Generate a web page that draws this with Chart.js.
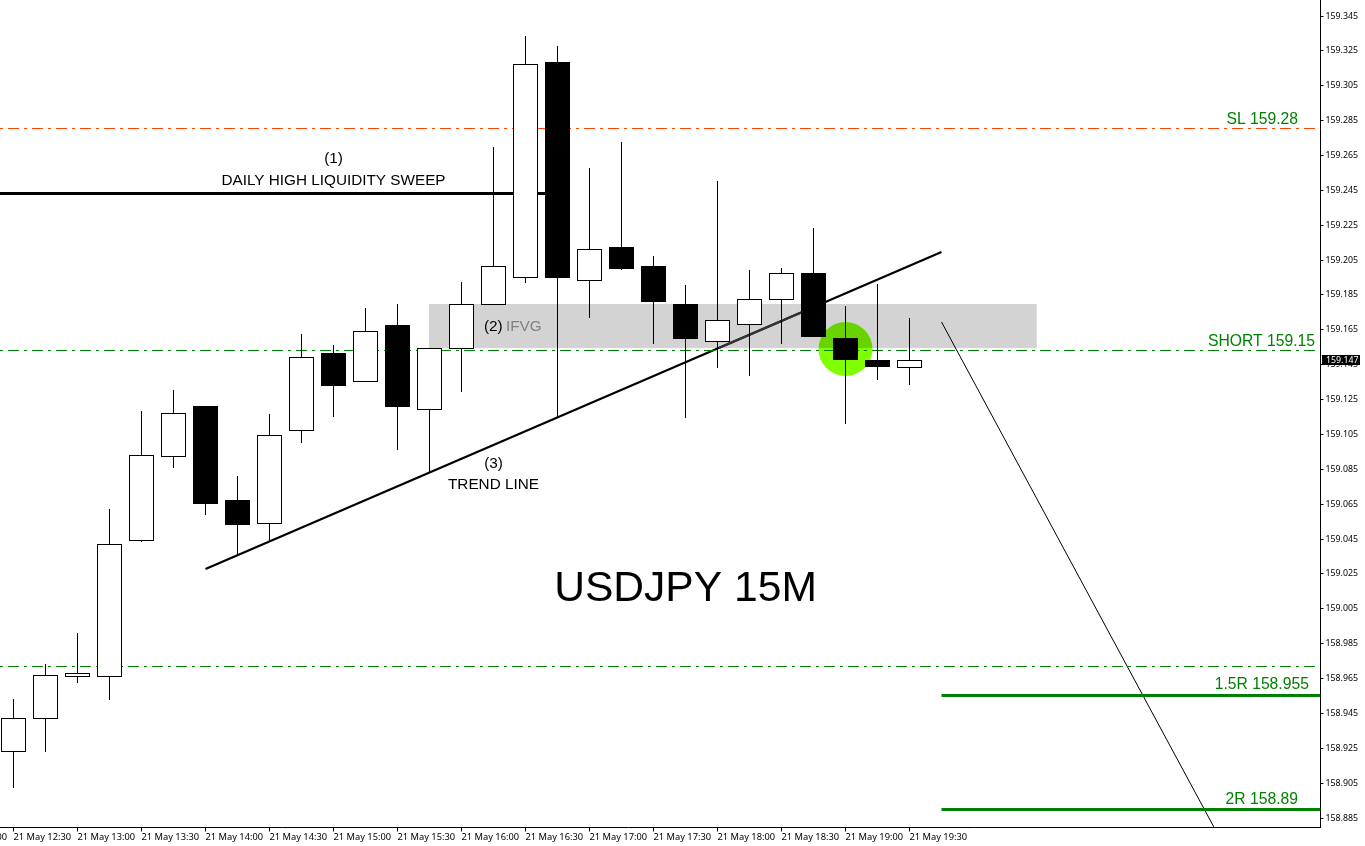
<!DOCTYPE html>
<html>
<head>
<meta charset="utf-8">
<title>USDJPY 15M</title>
<script src="https://cdn.jsdelivr.net/npm/chart.js@4"></script>
<style>
  html, body { margin: 0; background: #fff; overflow: hidden; }
  /* canvas starts 64px left of the window so the 12:00 label gets cut like in the original */
  #chart { position: absolute; left: -64px; top: 0; }
</style>
</head>
<body>
<canvas id="chart" width="1429" height="846"></canvas>
<script>
const opens  = [158.92286,158.94179,158.96588,158.96588,159.04388,159.09206,159.12132,159.06740,159.05363,159.10698,159.15171,159.13508,159.16777,159.11902,159.15401,159.17924,159.19473,159.31862,159.19301,159.21251,159.20161,159.17982,159.15802,159.16777,159.18211,159.19760,159.16032,159.14770,159.14311];
const highs  = [158.95326,158.97334,158.99112,159.06224,159.11845,159.13049,159.12132,159.08117,159.11673,159.16261,159.15630,159.17752,159.17982,159.15458,159.19244,159.26987,159.33353,159.32780,159.25782,159.27273,159.20735,159.19072,159.25037,159.19932,159.20047,159.22341,159.17867,159.19129,159.17179];
const lows   = [158.90222,158.92286,158.96244,158.95269,159.04331,159.08575,159.05880,159.03528,159.04388,159.10009,159.11501,159.13508,159.09608,159.08346,159.12934,159.17924,159.19186,159.11501,159.17179,159.19932,159.15688,159.11443,159.14311,159.13852,159.15688,159.16089,159.11099,159.13623,159.13336];
const closes = [158.94236,158.96703,158.96817,159.04216,159.09321,159.11730,159.06511,159.05306,159.10468,159.14942,159.13279,159.16433,159.12074,159.15458,159.17982,159.20161,159.31747,159.19473,159.21136,159.19989,159.18097,159.15974,159.17064,159.18269,159.19760,159.16089,159.14770,159.14368,159.14770];

const xTickLabels = ['21 May 12:00','21 May 12:30','21 May 13:00','21 May 13:30','21 May 14:00','21 May 14:30','21 May 15:00','21 May 15:30','21 May 16:00','21 May 16:30','21 May 17:00','21 May 17:30','21 May 18:00','21 May 18:30','21 May 19:00','21 May 19:30'];
const xTickIndexes = [-2,0,2,4,6,8,10,12,14,16,18,20,22,24,26,28];
const yTickLabels = ['159.345','159.325','159.305','159.285','159.265','159.245','159.225','159.205','159.185','159.165','159.145','159.125','159.105','159.085','159.065','159.045','159.025','159.005','158.985','158.965','158.945','158.925','158.905','158.885'];

const slLevel = 159.28048;
const shortLevel = 159.15315;
const lowerDashLevel = 158.97190;
const dailyHigh = 159.24320;
const target15R = 158.95527;
const target2R = 158.88988;
const currentPrice = 159.14770;
const currentPriceLabel = '159.147';
const ifvgTop = 159.17982;
const ifvgBottom = 159.15458;

const xMin = -2.421875, xMax = 40.84375;
const yMin = 158.87958, yMax = 159.35418;

function line(points, color, width, order, dash) {
  return {
    type: 'line', data: points, borderColor: color, borderWidth: width, borderDash: dash || [],
    pointRadius: 0, fill: false, order: order, tension: 0
  };
}

const dashDot = [11, 5, 3, 5];
const datasets = [
  // signal circle, goes under the zone so its top half looks darker
  { type: 'line', data: [{ x: 26, y: 159.15401 }], pointRadius: 27, pointBackgroundColor: '#7fff00', pointBorderWidth: 0, showLine: false, order: 100 },
  line([{ x: 6, y: 159.0278 }, { x: 29, y: 159.2097 }], '#000', 2.2, 90),
  // ifvg zone, translucent black = gray multiply
  { type: 'line', data: [{ x: 12.98, y: ifvgTop }, { x: 31.98, y: ifvgTop }], borderWidth: 0, pointRadius: 0,
    fill: { value: ifvgBottom }, backgroundColor: 'rgba(0,0,0,0.173)', order: 80 },
  line([{ x: 22.05, y: 159.1546 }, { x: 25.23, y: 159.1798 }], '#333', 2.2, 70),
  line([{ x: xMin, y: slLevel }, { x: xMax, y: slLevel }], '#ff4500', 1, 60, dashDot),
  line([{ x: xMin, y: shortLevel }, { x: xMax, y: shortLevel }], '#008000', 1, 60, dashDot),
  line([{ x: xMin, y: lowerDashLevel }, { x: xMax, y: lowerDashLevel }], '#008000', 1, 60, dashDot),
  line([{ x: xMin, y: dailyHigh }, { x: 17, y: dailyHigh }], '#000', 3, 60),
  line([{ x: 29, y: target15R }, { x: xMax, y: target15R }], '#008000', 3, 60),
  line([{ x: 29, y: target2R }, { x: xMax, y: target2R }], '#008000', 3, 60),
  line([{ x: 29, y: 159.1695 }, { x: 37.52, y: yMin }], '#000', 1, 60),
  // wicks
  { data: highs.map((h, i) => ({ x: i, y: [lows[i], h] })), backgroundColor: '#000', barThickness: 1,
    borderWidth: 0, inflateAmount: 0, grouped: false, order: 20 },
  // bodies
  { data: opens.map((o, i) => ({ x: i, y: [o, closes[i]] })),
    backgroundColor: opens.map((o, i) => closes[i] >= o ? '#fff' : '#000'),
    borderColor: '#000', borderWidth: 1, borderSkipped: false, barThickness: 25,
    inflateAmount: 0, grouped: false, order: 10 }
];

const notesPlugin = {
  id: 'notes',
  afterDatasetsDraw(chart) {
    const { ctx, scales: { x, y } } = chart;
    function note(text, ix, price, align, font, color) {
      ctx.font = font || '15.3px "Liberation Sans"';
      ctx.fillStyle = color || '#000';
      ctx.textAlign = align || 'center';
      ctx.textBaseline = 'middle';
      ctx.fillText(text, x.getPixelForValue(ix), y.getPixelForValue(price));
    }
    const greenFont = '15.7px "Liberation Sans"';
    ctx.save();
    note('(1)', 10, 159.2630);
    note('DAILY HIGH LIQUIDITY SWEEP', 10, 159.2504);
    note('(2)', 14.7, 159.1666, 'left');
    note('IFVG', 15.39, 159.1666, 'left', null, '#808080');
    note('(3)', 15, 159.0880);
    note('TREND LINE', 15, 159.0760);
    note('USDJPY 15M', 21, 159.0163, 'center', '42.6px "Liberation Sans"');
    note('SL 159.28', 40.14, 159.2853, 'right', greenFont, '#008000');
    note('SHORT 159.15', 40.67, 159.1580, 'right', greenFont, '#008000');
    note('1.5R 158.955', 40.48, 158.9613, 'right', greenFont, '#008000');
    note('2R 158.89', 40.14, 158.8953, 'right', greenFont, '#008000');
    ctx.restore();
  },
  afterDraw(chart) {
    // current price tag on the axis
    const { ctx, scales: { y } } = chart;
    const py = y.getPixelForValue(currentPrice);
    ctx.save();
    ctx.fillStyle = '#000';
    ctx.fillRect(y.left + 1.5, py - 5, 38, 10);
    ctx.fillStyle = '#fff';
    ctx.font = '8.8px "Noto Sans"';
    ctx.textAlign = 'left';
    ctx.textBaseline = 'middle';
    ctx.fillText(currentPriceLabel, y.left + 5.5, py);
    ctx.restore();
  }
};

new Chart(document.getElementById('chart'), {
  type: 'bar',
  data: { datasets: datasets },
  plugins: [notesPlugin],
  options: {
    responsive: false,
    animation: false,
    layout: { padding: 0, autoPadding: false },
    plugins: { legend: { display: false }, tooltip: { enabled: false } },
    scales: {
      x: {
        type: 'linear', position: 'bottom', min: xMin, max: xMax, offset: false,
        afterBuildTicks(s) { s.ticks = xTickIndexes.map(v => ({ value: v })); },
        afterFit(s) { s.height = 18.5; s.paddingLeft = s.paddingRight = 0; },
        grid: { drawOnChartArea: false, offset: false, tickLength: 4, color: '#000' },
        border: { color: '#000' },
        ticks: {
          autoSkip: false, maxRotation: 0, align: 'start', padding: 0, color: '#000',
          font: { family: 'Noto Sans', size: 9.3 },
          callback: v => xTickLabels[xTickIndexes.indexOf(v)]
        }
      },
      y: {
        type: 'linear', position: 'right', min: yMin, max: yMax, offset: false, beginAtZero: false,
        afterBuildTicks(s) { s.ticks = yTickLabels.map(v => ({ value: Number(v) })); },
        afterFit(s) { s.width = 44.5; s.paddingTop = s.paddingBottom = 0; },
        grid: { drawOnChartArea: false, tickLength: 3, color: '#000' },
        border: { color: '#000' },
        ticks: {
          autoSkip: false, padding: 2, color: '#000',
          font: { family: 'Noto Sans', size: 8.8 },
          callback: v => v.toFixed(3)
        }
      }
    }
  }
});
</script>
</body>
</html>
